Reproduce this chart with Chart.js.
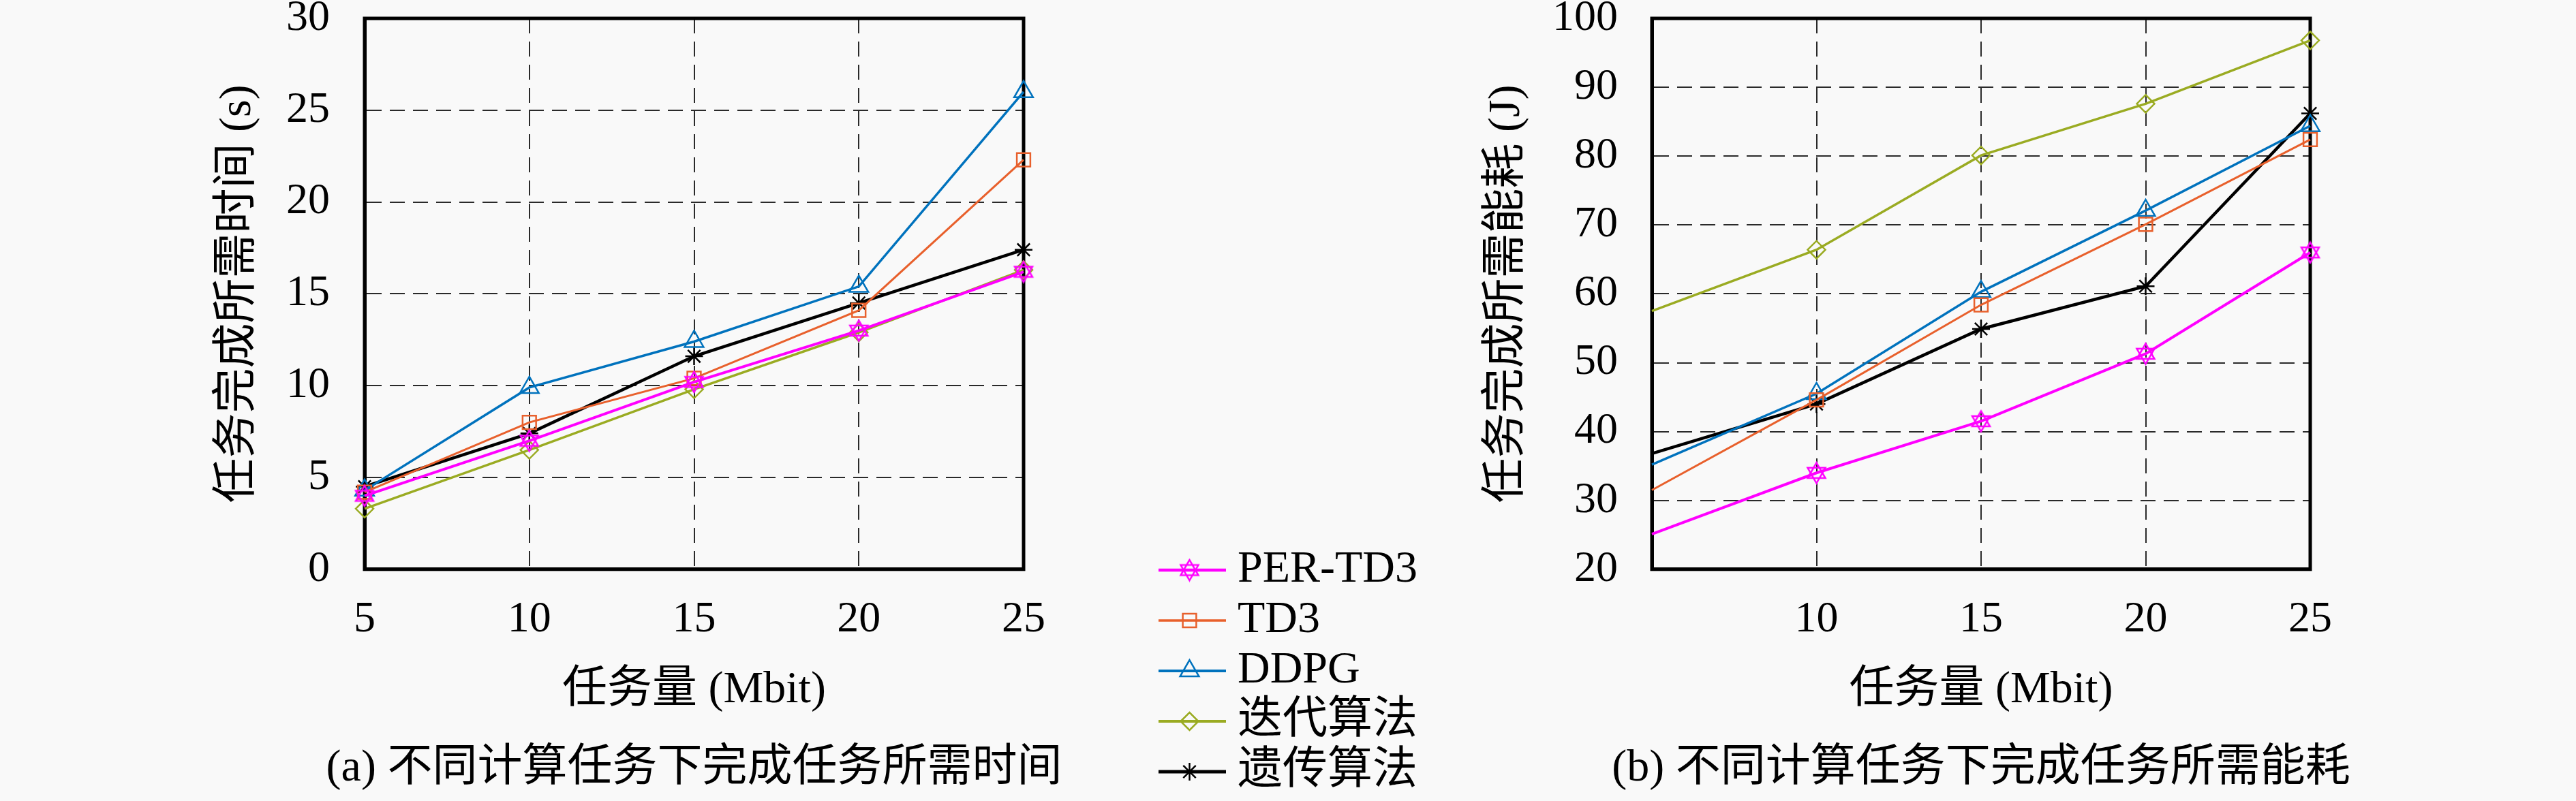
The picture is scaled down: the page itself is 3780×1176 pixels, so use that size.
<!DOCTYPE html>
<html>
<head>
<meta charset="utf-8">
<script src="https://cdn.jsdelivr.net/npm/chart.js@4.4.0/dist/chart.umd.min.js"></script>
<style>
  html, body { margin: 0; padding: 0; background: #f9f9f9; }
  #page { position: relative; width: 3780px; height: 1176px; overflow: hidden; }
  canvas { position: absolute; }
</style>
</head>
<body>
<div id="page">
  <canvas id="grapheA" width="2037" height="1176" style="left:0px;top:0px"></canvas>
  <canvas id="grapheB" width="1746" height="1176" style="left:2034px;top:0px"></canvas>
  <canvas id="legende" width="600" height="416" style="left:1660px;top:760px"></canvas>
</div>
<script>
// ---------------- donnees ----------------
const taskSizes = [5, 10, 15, 20, 25];
const algoNames = ["PER-TD3", "TD3", "DDPG", "迭代算法", "遗传算法"];

// (a) temps de completion (s)
const timePerTd3  = [4.0, 7.0, 10.2, 13.0, 16.2];
const timeTd3     = [4.2, 8.0, 10.4, 14.1, 22.3];
const timeDdpg    = [4.3, 9.9, 12.4, 15.4, 26.0];
const timeIter    = [3.3, 6.5, 9.8, 12.9, 16.3];
const timeGenetic = [4.5, 7.4, 11.6, 14.5, 17.4];

// (b) energie consommee (J)
const energyPerTd3  = [25.1, 34.0, 41.5, 51.3, 66.0];
const energyTd3     = [31.5, 44.6, 58.4, 70.1, 82.4];
const energyDdpg    = [35.2, 45.5, 60.3, 72.1, 84.4];
const energyIter    = [57.5, 66.4, 80.1, 87.6, 96.8];
const energyGenetic = [36.8, 44.0, 54.9, 61.1, 86.2];

// graduations
const xTicksA = [5, 10, 15, 20, 25];
const xTicksB = [10, 15, 20, 25];
const yTicksA = [0, 5, 10, 15, 20, 25, 30];
const yTicksB = [20, 30, 40, 50, 60, 70, 80, 90, 100];

const xTitle = "任务量 (Mbit)";
const yTitleA = "任务完成所需时间 (s)";
const yTitleB = "任务完成所需能耗 (J)";
const captionA = "(a) 不同计算任务下完成任务所需时间";
const captionB = "(b) 不同计算任务下完成任务所需能耗";

// ---------------- styles ----------------
const police = "'Liberation Serif', 'Noto Sans CJK SC', serif";
const fontTicks = { family: police, size: 64, lineHeight: 1.2, weight: "normal" };
const fontTitre = { family: police, size: 66, lineHeight: 1.2, weight: "normal" };

// etoile a six branches pour PER-TD3
function hexagramme(color, r, lw) {
  const c = document.createElement("canvas");
  const s = Math.ceil(2 * r + lw * 2);
  c.width = s;
  c.height = s;
  const g = c.getContext("2d");
  g.strokeStyle = color;
  g.lineWidth = lw;
  for (const start of [-Math.PI / 2, Math.PI / 2]) {
    g.beginPath();
    for (let k = 0; k < 3; k++) {
      const a = start + (k * 2 * Math.PI) / 3;
      const px = s / 2 + r * Math.cos(a);
      const py = s / 2 + r * Math.sin(a);
      if (k) g.lineTo(px, py); else g.moveTo(px, py);
    }
    g.closePath();
    g.stroke();
  }
  return c;
}

const series = [
  { color: "#ff00ff", width: 4, point: hexagramme("#ff00ff", 15, 2.5), radius: 15 },
  { color: "#e8602c", width: 3, point: "rect", radius: 14 },
  { color: "#0072bd", width: 3.5, point: "triangle", radius: 16 },
  { color: "#9aab22", width: 3.5, point: "rectRot", radius: 13 },
  { color: "#000000", width: 4.5, point: "star", radius: 13 },
];

const timeValues = [timePerTd3, timeTd3, timeDdpg, timeIter, timeGenetic];
const energyValues = [energyPerTd3, energyTd3, energyDdpg, energyIter, energyGenetic];

function jeuxDeDonnees(valeurs, cacherPremier) {
  return valeurs.map((vals, i) => ({
    label: algoNames[i],
    data: taskSizes.map((t, k) => ({ x: t, y: vals[k] })),
    borderColor: series[i].color,
    borderWidth: series[i].width,
    pointStyle: series[i].point,
    pointRadius: taskSizes.map((t, k) => (cacherPremier && k === 0 ? 0 : series[i].radius)),
    pointBorderColor: series[i].color,
    pointBackgroundColor: "rgba(0,0,0,0)",
    pointBorderWidth: 2.5,
    tension: 0,
    clip: false,
  }));
}

// cadre noir autour de la zone de trace
const cadre = {
  id: "cadre",
  beforeDatasetsDraw(chart) {
    const { ctx, chartArea: a } = chart;
    ctx.save();
    ctx.strokeStyle = "#000";
    ctx.lineWidth = 5;
    ctx.strokeRect(a.left, a.top, a.right - a.left, a.bottom - a.top);
    ctx.restore();
  },
};

function sansMarge(s) {
  s.paddingTop = 0;
  s.paddingBottom = 0;
  s.paddingLeft = 0;
  s.paddingRight = 0;
}

// l'axe y2 invisible sert juste a centrer la legende (a)/(b) sous la zone de trace
function optionsGraphe(p) {
  return {
    responsive: false,
    animation: false,
    devicePixelRatio: 1,
    layout: { padding: { left: 0, top: 27, right: 0, bottom: 0 } },
    plugins: {
      legend: { display: false },
      tooltip: { enabled: false },
      title: {
        display: true,
        position: "bottom",
        text: p.caption,
        color: "#000",
        font: fontTitre,
        padding: { top: 0, bottom: 8 },
      },
    },
    scales: {
      x: {
        type: "linear",
        min: 5,
        max: 25,
        afterBuildTicks: (s) => { s.ticks = p.xTicks.map((v) => ({ value: v })); },
        afterFit: (s) => { s.height = 253; sansMarge(s); },
        ticks: { color: "#000", font: fontTicks, padding: 36, maxRotation: 0, autoSkip: false },
        grid: { color: "#2a2a2a", lineWidth: 2, drawTicks: false },
        border: { color: "#000", width: 5, dash: [22, 12] },
        title: { display: true, text: xTitle, color: "#000", font: fontTitre, padding: { top: 0, bottom: 36 } },
      },
      y: {
        min: p.yTicks[0],
        max: p.yTicks[p.yTicks.length - 1],
        afterBuildTicks: (s) => { s.ticks = p.yTicks.map((v) => ({ value: v })); },
        afterFit: (s) => { s.width = p.yWidth; sansMarge(s); },
        ticks: { color: "#000", font: fontTicks, padding: p.tickPad, autoSkip: false },
        grid: { color: "#2a2a2a", lineWidth: 2, drawTicks: false },
        border: { color: "#000", width: 5, dash: [22, 12] },
        title: { display: true, text: p.yTitle, color: "#000", font: fontTitre, padding: { top: p.titlePad, bottom: 0 } },
      },
      y2: {
        position: "right",
        display: true,
        ticks: { display: false },
        grid: { display: false },
        border: { display: false },
        afterFit: (s) => { s.width = p.yWidth; sansMarge(s); },
      },
    },
  };
}

new Chart(document.getElementById("grapheA"), {
  type: "line",
  data: { datasets: jeuxDeDonnees(timeValues, false) },
  options: optionsGraphe({
    caption: captionA, xTicks: xTicksA, yTicks: yTicksA,
    yWidth: 535, tickPad: 51, yTitle: yTitleA, titlePad: 310,
  }),
  plugins: [cadre],
});

new Chart(document.getElementById("grapheB"), {
  type: "line",
  data: { datasets: jeuxDeDonnees(energyValues, true) },
  options: optionsGraphe({
    caption: captionB, xTicks: xTicksB, yTicks: yTicksB,
    yWidth: 390, tickPad: 50, yTitle: yTitleB, titlePad: 138,
  }),
  plugins: [cadre],
});

// ---------------- legende commune ----------------
function symboleLegende(s) {
  const c = document.createElement("canvas");
  c.width = 107;
  c.height = 40;
  const g = c.getContext("2d");
  g.strokeStyle = s.color;
  g.lineWidth = s.width + 0.5;
  g.beginPath();
  g.moveTo(0, 20);
  g.lineTo(107, 20);
  g.stroke();
  g.fillStyle = "rgba(0,0,0,0)";
  g.lineWidth = 2.5;
  if (Chart.helpers && Chart.helpers.drawPoint) {
    Chart.helpers.drawPoint(g, { pointStyle: s.point, radius: s.radius, rotation: 0, borderWidth: 2.5 }, 53.5, 20);
  }
  return c;
}
const legendImages = series.map(symboleLegende);

new Chart(document.getElementById("legende"), {
  type: "line",
  data: { datasets: algoNames.map((n, i) => ({ label: n, data: [], borderColor: series[i].color })) },
  options: {
    responsive: false,
    animation: false,
    devicePixelRatio: 1,
    layout: { padding: { left: 40, top: 36 } },
    scales: { x: { display: false }, y: { display: false } },
    plugins: {
      tooltip: { enabled: false },
      legend: {
        position: "left",
        align: "start",
        maxWidth: 1000,
        labels: {
          usePointStyle: true,
          pointStyleWidth: 75,
          padding: 8,
          color: "#000",
          font: { family: police, size: 66 },
          generateLabels: () => algoNames.map((n, i) => ({
            text: n,
            pointStyle: legendImages[i],
            fillStyle: series[i].color,
            strokeStyle: series[i].color,
            lineWidth: 0,
            hidden: false,
            datasetIndex: i,
            fontColor: "#000",
          })),
        },
      },
    },
  },
});
</script>
</body>
</html>
